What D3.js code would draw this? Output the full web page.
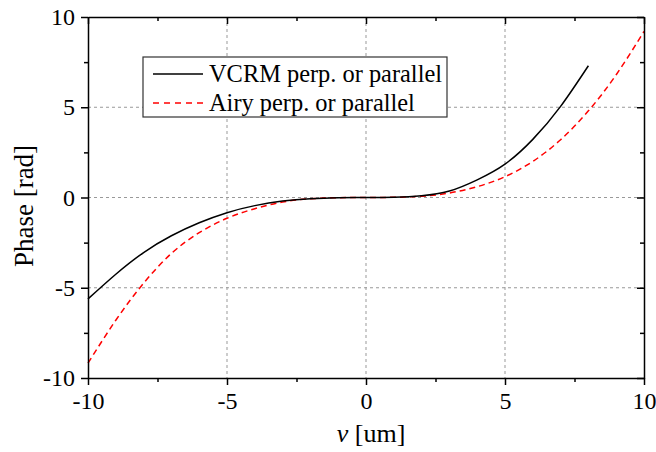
<!DOCTYPE html>
<html>
<head>
<meta charset="utf-8">
<script src="https://cdn.jsdelivr.net/npm/d3@7"></script>
<style>
  body { margin: 0; background: #fff; }
  text { font-family: "Liberation Serif", "Times New Roman", serif; }
</style>
</head>
<body>
<svg id="chart" width="656" height="452"></svg>
<script>
/** Data **/
var vcrmX = [-10, -9, -8, -7, -6, -5, -4, -3, -2, -1, 0, 1, 2, 3, 4, 5, 6, 7, 8];
var vcrmY = [-5.62, -4.25, -3.05, -2.12, -1.4, -0.84, -0.45, -0.2, -0.07, -0.015, 0, 0.02, 0.1, 0.36, 0.98, 1.85, 3.22, 5.05, 7.3];
var airyX = [-10, -9, -8, -7, -6, -5, -4, -3, -2, -1, 0, 1, 2, 3, 4, 5, 6, 7, 8, 9, 10];
var airyY = [-9.18, -6.8, -4.75, -3.1, -1.95, -1.15, -0.62, -0.25, -0.07, -0.01, 0, 0.01, 0.07, 0.25, 0.6, 1.15, 2.0, 3.2, 4.8, 6.8, 9.2];
var xTicks = [-10, -5, 0, 5, 10];
var yTicks = [-10, -5, 0, 5, 10];
var minorTicks = [-7.5, -2.5, 2.5, 7.5];
var legendLabels = ["VCRM perp. or parallel", "Airy perp. or parallel"];

/** Layout **/
var svg = d3.select("#chart");
var margin = {top: 17, right: 12, bottom: 74, left: 88};
var width = 656 - margin.left - margin.right;
var height = 452 - margin.top - margin.bottom;

var g = svg.append("g")
    .attr("transform", "translate(" + margin.left + "," + margin.top + ")");

var x = d3.scaleLinear().domain([-10, 10]).range([0, width]);
var y = d3.scaleLinear().domain([-10, 10]).range([height, 0]);

// grid lines
var gridVals = xTicks.filter(function (d) { return d > -10 && d < 10; });
g.selectAll(".gx").data(gridVals).enter().append("line")
    .attr("x1", function (d) { return x(d); }).attr("x2", function (d) { return x(d); })
    .attr("y1", 0).attr("y2", height)
    .attr("stroke", "#999").attr("stroke-width", 1).attr("stroke-dasharray", "3,3");
g.selectAll(".gy").data(gridVals).enter().append("line")
    .attr("y1", function (d) { return y(d); }).attr("y2", function (d) { return y(d); })
    .attr("x1", 0).attr("x2", width)
    .attr("stroke", "#999").attr("stroke-width", 1).attr("stroke-dasharray", "3,3");

// curves
var vcrm = vcrmX.map(function (d, i) { return {v: d, p: vcrmY[i]}; });
var airy = airyX.map(function (d, i) { return {v: d, p: airyY[i]}; });
var line = d3.line()
    .x(function (d) { return x(d.v); })
    .y(function (d) { return y(d.p); })
    .curve(d3.curveNatural);

g.append("path").datum(airy)
    .attr("fill", "none").attr("stroke", "#ff0000").attr("stroke-width", 1.5)
    .attr("stroke-dasharray", "6,4").attr("d", line);
g.append("path").datum(vcrm)
    .attr("fill", "none").attr("stroke", "#000").attr("stroke-width", 1.5)
    .attr("d", line);

/** Axes **/
function styleAxis(sel) {
    sel.select(".domain").attr("stroke-width", 1.5);
    sel.selectAll(".tick line").attr("stroke-width", 1.5);
    sel.selectAll("text").attr("font-family", "Liberation Serif").attr("font-size", 24).attr("fill", "#000");
}
var fmt = function (d) { return String(d); };

var bottom = g.append("g").attr("transform", "translate(0," + height + ")")
    .call(d3.axisBottom(x).tickValues(xTicks).tickSize(7).tickSizeOuter(0).tickFormat(fmt));
styleAxis(bottom);
bottom.selectAll(".tick text").attr("y", 31).attr("dy", null);
g.append("g").attr("transform", "translate(0," + height + ")")
    .call(d3.axisBottom(x).tickValues(minorTicks).tickSize(4).tickSizeOuter(0).tickFormat(""))
    .call(styleAxis).select(".domain").remove();

var left = g.append("g")
    .call(d3.axisLeft(y).tickValues(yTicks).tickSize(7).tickSizeOuter(0).tickPadding(6).tickFormat(fmt));
styleAxis(left);
g.append("g")
    .call(d3.axisLeft(y).tickValues(minorTicks).tickSize(4).tickSizeOuter(0).tickFormat(""))
    .call(styleAxis).select(".domain").remove();

// mirrored top / right axes with inward ticks
g.append("g")
    .call(d3.axisBottom(x).tickValues(xTicks).tickSize(7).tickSizeOuter(0).tickFormat(""))
    .call(styleAxis);
g.append("g")
    .call(d3.axisBottom(x).tickValues(minorTicks).tickSize(4).tickSizeOuter(0).tickFormat(""))
    .call(styleAxis).select(".domain").remove();
g.append("g").attr("transform", "translate(" + width + ",0)")
    .call(d3.axisLeft(y).tickValues(yTicks).tickSize(7).tickSizeOuter(0).tickFormat(""))
    .call(styleAxis);
g.append("g").attr("transform", "translate(" + width + ",0)")
    .call(d3.axisLeft(y).tickValues(minorTicks).tickSize(4).tickSizeOuter(0).tickFormat(""))
    .call(styleAxis).select(".domain").remove();

// axis titles
var xt = svg.append("text")
    .attr("x", 371).attr("y", 442)
    .attr("text-anchor", "middle").attr("font-size", 26);
xt.append("tspan").attr("font-style", "italic").text("v");
xt.append("tspan").text(" [um]");

svg.append("text")
    .attr("transform", "translate(33,206) rotate(-90)")
    .attr("text-anchor", "middle").attr("font-size", 27)
    .text("Phase [rad]");

/** Legend **/
var leg = svg.append("g").attr("transform", "translate(143,57)");
leg.append("rect").attr("x", 0).attr("y", 0).attr("width", 304).attr("height", 60)
    .attr("fill", "#fff").attr("stroke", "#333").attr("stroke-width", 1.2);
var legColors = ["#000", "#ff0000"];
var legDash = [null, "6,5"];
legendLabels.forEach(function (lbl, i) {
    var cy = 17 + i * 29;
    leg.append("line").attr("x1", 10).attr("x2", 60).attr("y1", cy).attr("y2", cy)
        .attr("stroke", legColors[i]).attr("stroke-width", 1.5)
        .attr("stroke-dasharray", legDash[i]);
    leg.append("text").attr("x", 66).attr("y", cy + 8).attr("font-size", 24.4).text(lbl);
});
</script>
</body>
</html>
